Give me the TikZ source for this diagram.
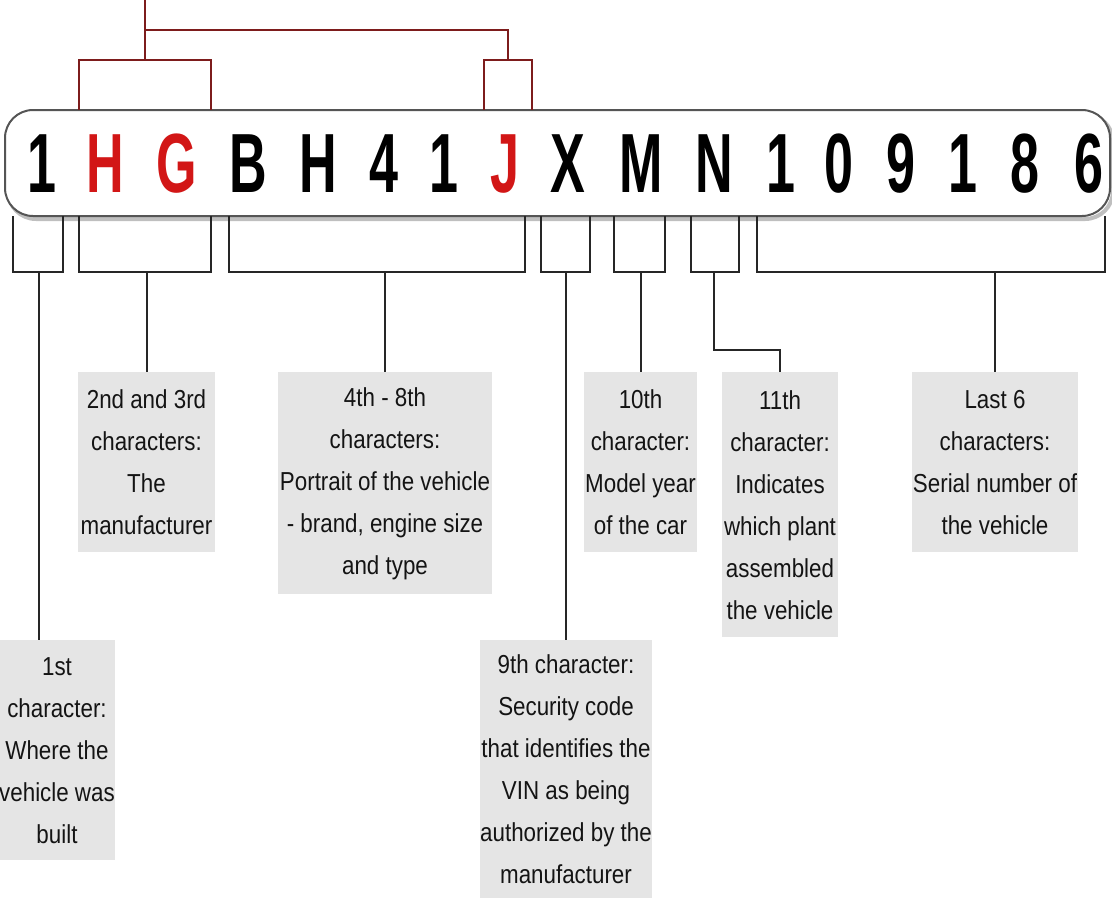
\documentclass[tikz,border=0pt]{standalone}
\usepackage{fontspec}
\setmainfont{Liberation Sans}[FakeStretch=0.86]
\newfontfamily\vinfont{Liberation Sans}[FakeStretch=0.62]
\usepackage{xcolor}
\usepackage{tikz}
\usetikzlibrary{positioning,calc}

\definecolor{vinred}{RGB}{210,22,22}
\definecolor{linkred}{RGB}{125,28,28}
\definecolor{boxgray}{RGB}{229,229,229}
\definecolor{rimgray}{RGB}{85,85,85}

\tikzset{
  vinchar/.style={font=\vinfont\bfseries\fontsize{42}{42}\selectfont, inner sep=0pt, anchor=base},
  infobox/.style={fill=boxgray, text=black!92, font=\fontsize{13}{21}\selectfont, align=center, anchor=north, inner sep=0pt},
  bracket/.style={draw=black!85, line width=1pt},
  topbracket/.style={draw=linkred, line width=1pt}
}

\begin{document}
\begin{tikzpicture}[x=0.5pt,y=-0.5pt]
  \useasboundingbox (0,0) rectangle (1112,901);
  % VIN plate
  \draw[black!25, line width=2pt, rounded corners=14pt] (8,114) rectangle (1113,219);
  \draw[rimgray, line width=1pt, fill=white, rounded corners=14pt] (5,110) rectangle (1110,216);
  \foreach \x/\c/\col [count=\i] in {42/1/black, 105/H/vinred, 177/G/vinred, 248/B/black, 318/H/black, 384/4/black, 444/1/black, 505/J/vinred, 568/X/black, 641/M/black, 714/N/black, 781/1/black, 839/0/black, 901/9/black, 963/1/black, 1025/8/black, 1089/6/black}
    \node[vinchar, text=\col] (c\i) at (\x,192) {\c};

  % brackets above (manufacturer id + J)
  \coordinate (hg) at (145,60);
  \coordinate (j) at (508,60);
  \coordinate (top) at (145,0);
  \draw[topbracket] (79,110) -- (79,60) -- (211,60) -- (211,110);
  \draw[topbracket] (484,110) -- (484,60) -- (532,60) -- (532,110);
  \draw[topbracket] (top) -- (hg);
  \draw[topbracket] (hg) -- ++(0,-30) -| (j);

  % brackets below
  \coordinate (brk) at (0,272);
  \coordinate (s1) at (39,272);
  \foreach \a/\b in {13/63, 79/211, 229/525, 541/590, 614/665, 691/739, 757/1105}
    \draw[bracket] (\a,216) -- (\a,272) -- (\b,272) -- (\b,216);

  % labels
  \node[infobox, minimum width=54pt, minimum height=110pt] (l1) at (57,640) {1st\\character:\\Where the\\vehicle was\\built};
  \node[infobox, minimum width=68.5pt, minimum height=90pt] (l2) at (146.5,372) {2nd and 3rd\\characters:\\The\\manufacturer};
  \node[infobox, minimum width=107pt, minimum height=111pt] (l3) at (385,372) {4th - 8th\\characters:\\Portrait of the vehicle\\- brand, engine size\\and type};
  \node[infobox, minimum width=86pt, minimum height=129pt] (l4) at (566,640) {9th character:\\Security code\\that identifies the\\VIN as being\\authorized by the\\manufacturer};
  \node[infobox, minimum width=56.5pt, minimum height=90pt] (l5) at (640.5,372) {10th\\character:\\Model year\\of the car};
  \node[infobox, minimum width=58pt, minimum height=132.5pt] (l6) at (780,372) {11th\\character:\\Indicates\\which plant\\assembled\\the vehicle};
  \node[infobox, minimum width=83pt, minimum height=90pt] (l7) at (995,372) {Last 6\\characters:\\Serial number of\\the vehicle};

  % stems
  \draw[bracket] (s1) -- (s1 |- l1.north);
  \foreach \i in {2,3,4,5,7}
    \draw[bracket] (l\i.north |- brk) -- (l\i.north);
  \draw[bracket] (714,272) -- (714,350) -| (l6.north);
\end{tikzpicture}
\end{document}
